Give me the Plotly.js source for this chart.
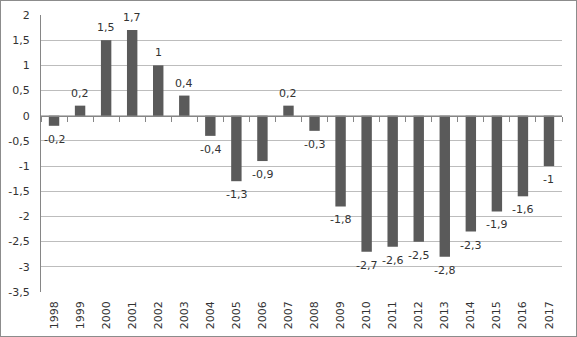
<!DOCTYPE html>
<html>
<head>
<meta charset="utf-8">
<script src="https://cdn.plot.ly/plotly-3.0.1.min.js"></script>
<style>
  html, body { margin: 0; padding: 0; background: #fff; }
  #chart { width: 575px; height: 335px; border: 1px solid #8c8c8c; }
</style>
</head>
<body>
<div id="chart"></div>
<script>
var years = ['1998','1999','2000','2001','2002','2003','2004','2005','2006','2007',
             '2008','2009','2010','2011','2012','2013','2014','2015','2016','2017'];
var values = [-0.2, 0.2, 1.5, 1.7, 1.0, 0.4, -0.4, -1.3, -0.9, 0.2,
              -0.3, -1.8, -2.7, -2.6, -2.5, -2.8, -2.3, -1.9, -1.6, -1.0];
var yTickVals = [2, 1.5, 1, 0.5, 0, -0.5, -1, -1.5, -2, -2.5, -3, -3.5];
var yTickText = ['2', '1,5', '1', '0,5', '0', '-0,5', '-1', '-1,5', '-2', '-2,5', '-3', '-3,5'];

var labels = values.map(function (v) { return String(v).replace('.', ','); });
var yMin = -3.5, yMax = 2;

var font = { family: 'DejaVu Sans, Verdana, sans-serif', size: 11, color: '#333333' };

var trace = {
  type: 'bar',
  x: years,
  y: values,
  width: 0.4,
  marker: { color: '#5a5a5a' },
  hoverinfo: 'skip'
};

// invisible trace on the second x axis so it draws tick marks on the zero line
var tickTrace = {
  type: 'scatter',
  x: years,
  y: values.map(function () { return 0; }),
  xaxis: 'x2',
  mode: 'none',
  hoverinfo: 'skip',
  showlegend: false
};

// data labels: x is the category index on the category axis
var annotations = values.map(function (v, i) {
  return {
    x: i,
    y: v,
    xref: 'x',
    yref: 'y',
    text: labels[i],
    showarrow: false,
    font: font,
    xanchor: 'center',
    yanchor: v >= 0 ? 'bottom' : 'top',
    yshift: v >= 0 ? 4 : -5
  };
});

var layout = {
  width: 575,
  height: 335,
  margin: { l: 40, r: 14, t: 14, b: 44 },
  paper_bgcolor: '#ffffff',
  plot_bgcolor: '#ffffff',
  showlegend: false,
  separators: ',.',
  font: font,
  bargap: 0.6,
  annotations: annotations,
  xaxis: {
    type: 'category',
    range: [-0.5, years.length - 0.5],
    showgrid: false,
    zeroline: false,
    showline: false,
    ticks: '',
    tickangle: -90,
    tickfont: font,
    ticklabelstandoff: 6,
    fixedrange: true
  },
  xaxis2: {
    type: 'category',
    overlaying: 'x',
    anchor: 'free',
    position: (0 - yMin) / (yMax - yMin),
    side: 'bottom',
    showline: true,
    linecolor: '#868686',
    linewidth: 1,
    ticks: 'outside',
    tickson: 'boundaries',
    ticklen: 5,
    tickcolor: '#868686',
    showticklabels: false,
    showgrid: false,
    zeroline: false,
    matches: 'x'
  },
  yaxis: {
    range: [yMin, yMax],
    tickvals: yTickVals,
    ticktext: yTickText,
    showgrid: true,
    gridcolor: '#bdbdbd',
    gridwidth: 1,
    zeroline: false,
    showline: true,
    linecolor: '#868686',
    ticks: '',
    ticklabelstandoff: 8,
    tickfont: font,
    fixedrange: true
  }
};

Plotly.newPlot('chart', [trace, tickTrace], layout, { displayModeBar: false, staticPlot: true });
</script>
</body>
</html>
